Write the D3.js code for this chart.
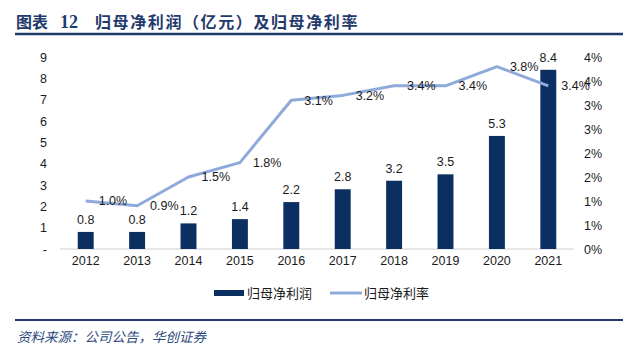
<!DOCTYPE html>
<html><head><meta charset="utf-8">
<script src="https://cdn.jsdelivr.net/npm/d3@7/dist/d3.min.js"></script>
<style>
html,body{margin:0;padding:0;background:#fff;}
svg{display:block;font-family:"Liberation Sans",Arial,sans-serif;}
</style></head>
<body><svg id="c" width="640" height="357"></svg>
<script>
const years = ["2012","2013","2014","2015","2016","2017","2018","2019","2020","2021"];
const profit = [0.8,0.8,1.2,1.4,2.2,2.8,3.2,3.5,5.3,8.4];
const margin = [1.0,0.9,1.5,1.8,3.1,3.2,3.4,3.4,3.8,3.4];
const leftTicks = [0,1,2,3,4,5,6,7,8,9];
const leftTickLabels = ["-","1","2","3","4","5","6","7","8","9"];
const rightTicks = [0,0.5,1,1.5,2,2.5,3,3.5,4];
const rightTickLabels = ["0%","1%","1%","2%","2%","3%","3%","4%","4%"];
const seriesNames = ["归母净利润","归母净利率"];
const titlePrefix = "图表";
const titleNum = "12";
const titleText = "归母净利润（亿元）及归母净利率";
const sourceText = "资料来源：公司公告，华创证券";

const svg = d3.select("#c");
const barColor = "#0c2f62", lineColor = "#8eaadb", navy = "#1f3a6b", txt = "#1a1a1a";

// title
svg.append("text").attr("x",16).attr("y",28).attr("fill",navy)
  .attr("font-family","'Noto Sans CJK SC'").attr("font-weight","bold").attr("font-size",16)
  .text(titlePrefix);
svg.append("text").attr("x",60).attr("y",28).attr("fill",navy)
  .attr("font-family","'Liberation Serif'").attr("font-weight","bold").attr("font-size",18)
  .text(titleNum);
svg.append("text").attr("x",95).attr("y",28).attr("fill",navy)
  .attr("font-family","'Noto Sans CJK SC'").attr("font-weight","bold").attr("font-size",16)
  .attr("letter-spacing","1.6px").text(titleText);
svg.append("line").attr("x1",15).attr("x2",623).attr("y1",34).attr("y2",34)
  .attr("stroke",navy).attr("stroke-width",2.5);

const x = d3.scaleBand().domain(years).range([60,574]).paddingInner(0.69).paddingOuter(0.345);
const yL = d3.scaleLinear().domain([0,9]).range([249,57]);
const yR = d3.scaleLinear().domain([0,4]).range([249,57]);
const cx = d => x(d) + x.bandwidth()/2;

// baseline
svg.append("line").attr("x1",60).attr("x2",574).attr("y1",yL(0)).attr("y2",yL(0))
  .attr("stroke","#d0d0d0").attr("stroke-width",1);

// axes
const axL = svg.append("g").attr("transform","translate(47,0)")
  .call(d3.axisLeft(yL).tickValues(leftTicks).tickSize(0).tickPadding(0)
    .tickFormat((d,i)=>leftTickLabels[i]));
const axR = svg.append("g").attr("transform","translate(584,0)")
  .call(d3.axisRight(yR).tickValues(rightTicks).tickSize(0).tickPadding(0)
    .tickFormat((d,i)=>rightTickLabels[i]));
const axB = svg.append("g").attr("transform","translate(0,256)")
  .call(d3.axisBottom(x).tickSize(0).tickPadding(0));
[axL,axR,axB].forEach(a=>{
  a.select(".domain").remove();
  a.selectAll("text").attr("font-size",12.5).attr("fill",txt)
   .attr("font-family","'Liberation Sans',Arial,sans-serif");
});

// bars
svg.selectAll("rect.bar").data(years).join("rect").attr("class","bar")
  .attr("x",d=>x(d)).attr("width",x.bandwidth())
  .attr("y",(d,i)=>yL(profit[i])).attr("height",(d,i)=>yL(0)-yL(profit[i]))
  .attr("fill",barColor);
svg.selectAll("text.bl").data(years).join("text").attr("class","bl")
  .attr("x",d=>cx(d)).attr("y",(d,i)=>yL(profit[i])-8)
  .attr("text-anchor","middle").attr("font-size",12.5).attr("fill",txt)
  .text((d,i)=>profit[i].toFixed(1));

// line
const line = d3.line().x(d=>cx(d[0])).y(d=>yR(d[1]));
svg.append("path").datum(years.map((y,i)=>[y,margin[i]])).attr("d",line)
  .attr("fill","none").attr("stroke",lineColor).attr("stroke-width",3)
  .attr("stroke-linejoin","round");
svg.selectAll("text.ll").data(years).join("text").attr("class","ll")
  .attr("x",d=>cx(d)+13).attr("y",(d,i)=>yR(margin[i])).attr("dy","0.35em")
  .attr("font-size",12.5).attr("fill",txt)
  .text((d,i)=>margin[i].toFixed(1)+"%");

// legend
svg.append("rect").attr("x",214).attr("y",290).attr("width",30).attr("height",6).attr("fill",barColor);
svg.append("text").attr("x",247).attr("y",293).attr("dy","0.35em").attr("font-size",13)
  .attr("fill",txt).attr("font-family","'Noto Sans CJK SC'").text(seriesNames[0]);
svg.append("line").attr("x1",330).attr("x2",362).attr("y1",293).attr("y2",293)
  .attr("stroke",lineColor).attr("stroke-width",3);
svg.append("text").attr("x",364).attr("y",293).attr("dy","0.35em").attr("font-size",13)
  .attr("fill",txt).attr("font-family","'Noto Sans CJK SC'").text(seriesNames[1]);

// footer
svg.append("line").attr("x1",15).attr("x2",623).attr("y1",320).attr("y2",320)
  .attr("stroke",navy).attr("stroke-width",2);
svg.append("text").attr("x",17).attr("y",337).attr("dy","0.35em").attr("font-size",13.5)
  .attr("fill","#2c4a80").attr("font-style","italic").attr("font-family","'Noto Sans CJK SC'")
  .text(sourceText);
</script></body></html>
